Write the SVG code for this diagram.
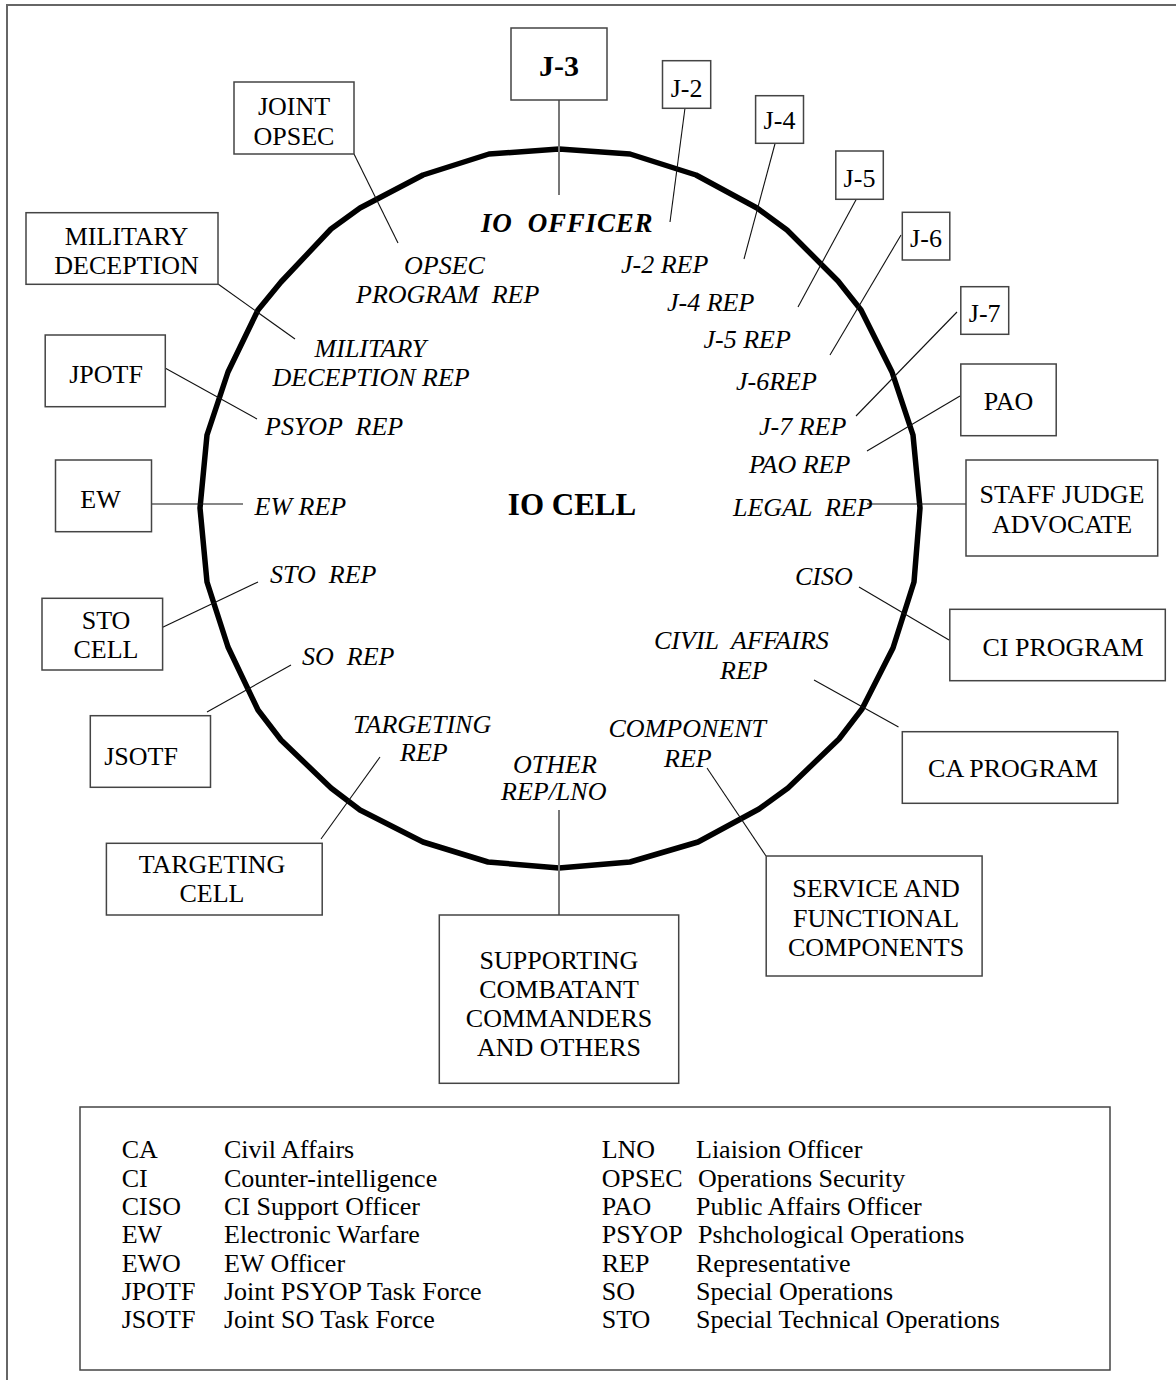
<svg xmlns="http://www.w3.org/2000/svg" width="1176" height="1389" viewBox="0 0 1176 1389">
  <style>
    .box { fill: #fff; stroke: #444; stroke-width: 1.5; }
    .lbl { font-family: "Liberation Serif", "Times New Roman", serif; font-size: 26px; fill: #000; text-anchor: middle; }
    .rep { font-family: "Liberation Serif", "Times New Roman", serif; font-size: 26px; font-style: italic; fill: #000; white-space: pre; }
    .leg { font-family: "Liberation Serif", "Times New Roman", serif; font-size: 26px; fill: #000; }
    .con { stroke: #111; stroke-width: 1.1; fill: none; }
    .stem { stroke: #777; stroke-width: 2; fill: none; }
  </style>

  <rect width="1176" height="1389" fill="#fff"/>

  <!-- page frame -->
  <path d="M7,1380 V5 H1176" fill="none" stroke="#666" stroke-width="2"/>

  <!-- the IO cell ring -->
  <polygon id="io-cell-ring" fill="none" stroke="#000" stroke-width="5.5" stroke-linejoin="round"
    points="559,149 630,154 696,175 757,208 787,230 838,281 861,310 892,372 913,435 920,508 914,582 893,648 862,709 839,739 788,788 759,809 698,842 630,862 559,868 488,862 423,842 360,810 331,788 281,740 258,710 228,647 207,582 200,508 207,435 228,372 258,310 281,282 331,229 360,208 423,175 489,154"/>

  <!-- connectors -->
  <g id="connectors">
    <line class="stem" x1="559" y1="100" x2="559" y2="195"/>
    <line class="con" x1="685" y1="108" x2="670" y2="222"/>
    <line class="con" x1="776" y1="140" x2="744" y2="259"/>
    <line class="con" x1="858.6" y1="195" x2="798" y2="307"/>
    <line class="con" x1="901" y1="235" x2="830" y2="355"/>
    <line class="con" x1="957" y1="312" x2="856" y2="416"/>
    <line class="con" x1="960" y1="396" x2="867" y2="451"/>
    <line class="con" x1="867" y1="504" x2="966" y2="504"/>
    <line class="con" x1="859" y1="587" x2="949" y2="640"/>
    <line class="con" x1="814" y1="680" x2="898.5" y2="727"/>
    <line class="con" x1="707" y1="768" x2="766" y2="856"/>
    <line class="stem" x1="559" y1="810" x2="559" y2="915"/>
    <line class="con" x1="380" y1="757" x2="321" y2="839"/>
    <line class="con" x1="291" y1="665" x2="207" y2="712"/>
    <line class="con" x1="258" y1="582" x2="159" y2="629"/>
    <line class="con" x1="151.5" y1="504" x2="243" y2="504"/>
    <line class="con" x1="165" y1="368" x2="257" y2="419"/>
    <line class="con" x1="218" y1="284" x2="295" y2="339"/>
    <line class="con" x1="354" y1="154" x2="398" y2="243"/>
  </g>

  <!-- cell centre and members -->
  <g id="io-cell-members">
    <text x="572" y="515" class="lbl" style="font-weight:bold;font-size:31px">IO CELL</text>
    <text x="481" y="232" class="rep" style="font-weight:bold;font-size:27px;letter-spacing:0.8px">IO  OFFICER</text>
    <text x="621" y="273" class="rep">J-2 REP</text>
    <text x="667" y="311" class="rep">J-4 REP</text>
    <text x="703.5" y="348" class="rep">J-5 REP</text>
    <text x="736" y="390" class="rep">J-6REP</text>
    <text x="759" y="435" class="rep">J-7 REP</text>
    <text x="749" y="473" class="rep">PAO REP</text>
    <text x="733" y="516" class="rep">LEGAL  REP</text>
    <text x="795" y="585" class="rep">CISO</text>
    <text x="654" y="649" class="rep">CIVIL  AFFAIRS</text>
    <text x="720" y="679" class="rep">REP</text>
    <text x="608.5" y="737" class="rep">COMPONENT</text>
    <text x="664" y="767" class="rep">REP</text>
    <text x="513" y="773" class="rep">OTHER</text>
    <text x="501" y="800" class="rep">REP/LNO</text>
    <text x="353" y="733" class="rep">TARGETING</text>
    <text x="400" y="761" class="rep">REP</text>
    <text x="302" y="665" class="rep">SO  REP</text>
    <text x="270" y="583" class="rep">STO  REP</text>
    <text x="254.5" y="515" class="rep">EW REP</text>
    <text x="265" y="435" class="rep">PSYOP  REP</text>
    <text x="314.6" y="357" class="rep">MILITARY</text>
    <text x="272.5" y="386" class="rep">DECEPTION REP</text>
    <text x="404" y="274" class="rep">OPSEC</text>
    <text x="356" y="303" class="rep">PROGRAM  REP</text>
  </g>

  <!-- outside organisations -->
  <g id="j3">
    <rect class="box" x="511" y="28" width="96" height="72"/>
    <text class="lbl" x="559" y="76" style="font-weight:bold;font-size:30px">J-3</text>
  </g>
  <g id="j2">
    <rect class="box" x="662.5" y="60.7" width="48.2" height="47.6"/>
    <text class="lbl" x="686.6" y="97">J-2</text>
  </g>
  <g id="j4">
    <rect class="box" x="755.6" y="95.7" width="47.9" height="47.6"/>
    <text class="lbl" x="779.5" y="129">J-4</text>
  </g>
  <g id="j5">
    <rect class="box" x="835.8" y="151" width="47.5" height="48.3"/>
    <text class="lbl" x="859.5" y="187">J-5</text>
  </g>
  <g id="j6">
    <rect class="box" x="902.3" y="212.3" width="47.5" height="47.7"/>
    <text class="lbl" x="926" y="246.5">J-6</text>
  </g>
  <g id="j7">
    <rect class="box" x="960.8" y="286.7" width="47.9" height="47.6"/>
    <text class="lbl" x="984.7" y="322">J-7</text>
  </g>
  <g id="pao">
    <rect class="box" x="960.8" y="364" width="95.4" height="71.7"/>
    <text class="lbl" x="1008.5" y="410">PAO</text>
  </g>
  <g id="staff-judge-advocate">
    <rect class="box" x="966" y="460" width="191.7" height="96"/>
    <text class="lbl" x="1062" y="503">STAFF JUDGE</text>
    <text class="lbl" x="1062" y="533">ADVOCATE</text>
  </g>
  <g id="ci-program">
    <rect class="box" x="949.8" y="609.3" width="215.5" height="71.4"/>
    <text class="lbl" x="1063" y="656">CI PROGRAM</text>
  </g>
  <g id="ca-program">
    <rect class="box" x="902.3" y="731.7" width="215.5" height="71.6"/>
    <text class="lbl" x="1013" y="777">CA PROGRAM</text>
  </g>
  <g id="service-components">
    <rect class="box" x="766.2" y="856" width="215.9" height="120"/>
    <text class="lbl" x="876" y="897">SERVICE AND</text>
    <text class="lbl" x="876" y="927">FUNCTIONAL</text>
    <text class="lbl" x="876" y="956">COMPONENTS</text>
  </g>
  <g id="supporting-commanders">
    <rect class="box" x="439.3" y="915" width="239.4" height="168.3"/>
    <text class="lbl" x="559" y="969">SUPPORTING</text>
    <text class="lbl" x="559" y="998">COMBATANT</text>
    <text class="lbl" x="559" y="1027">COMMANDERS</text>
    <text class="lbl" x="559" y="1056">AND OTHERS</text>
  </g>
  <g id="targeting-cell">
    <rect class="box" x="106.4" y="843.3" width="215.8" height="71.7"/>
    <text class="lbl" x="212" y="873">TARGETING</text>
    <text class="lbl" x="212" y="902">CELL</text>
  </g>
  <g id="jsotf">
    <rect class="box" x="90.3" y="715.7" width="120.2" height="71.6"/>
    <text class="lbl" x="141" y="765">JSOTF</text>
  </g>
  <g id="sto-cell">
    <rect class="box" x="42" y="598.3" width="120.6" height="71.7"/>
    <text class="lbl" x="106" y="629">STO</text>
    <text class="lbl" x="106" y="658">CELL</text>
  </g>
  <g id="ew">
    <rect class="box" x="55.5" y="460" width="96" height="71.7"/>
    <text class="lbl" x="100.5" y="508">EW</text>
  </g>
  <g id="jpotf">
    <rect class="box" x="45.2" y="335" width="120.1" height="71.7"/>
    <text class="lbl" x="106" y="383">JPOTF</text>
  </g>
  <g id="military-deception">
    <rect class="box" x="26" y="212.7" width="192" height="71.6"/>
    <text class="lbl" x="126.5" y="245">MILITARY</text>
    <text class="lbl" x="126.5" y="274">DECEPTION</text>
  </g>
  <g id="joint-opsec">
    <rect class="box" x="234" y="82" width="120" height="72"/>
    <text class="lbl" x="294" y="115">JOINT</text>
    <text class="lbl" x="294" y="145">OPSEC</text>
  </g>

  <!-- abbreviations -->
  <g id="legend">
    <rect class="box" x="80" y="1107" width="1030" height="263"/>
    <g class="leg">
      <text x="121.7" y="1158.3">CA</text><text x="224" y="1158.3">Civil Affairs</text>
      <text x="121.7" y="1186.7">CI</text><text x="224" y="1186.7">Counter-intelligence</text>
      <text x="121.7" y="1215">CISO</text><text x="224" y="1215">CI Support Officer</text>
      <text x="121.7" y="1243.3">EW</text><text x="224" y="1243.3">Electronic Warfare</text>
      <text x="121.7" y="1271.7">EWO</text><text x="224" y="1271.7">EW Officer</text>
      <text x="121.7" y="1300">JPOTF</text><text x="224" y="1300">Joint PSYOP Task Force</text>
      <text x="121.7" y="1328.3">JSOTF</text><text x="224" y="1328.3">Joint SO Task Force</text>
      <text x="601.7" y="1158.3">LNO</text><text x="696" y="1158.3">Liaision Officer</text>
      <text x="601.7" y="1186.7">OPSEC</text><text x="698" y="1186.7">Operations Security</text>
      <text x="601.7" y="1215">PAO</text><text x="696" y="1215">Public Affairs Officer</text>
      <text x="601.7" y="1243.3">PSYOP</text><text x="698" y="1243.3">Pshchological Operations</text>
      <text x="601.7" y="1271.7">REP</text><text x="696" y="1271.7">Representative</text>
      <text x="601.7" y="1300">SO</text><text x="696" y="1300">Special Operations</text>
      <text x="601.7" y="1328.3">STO</text><text x="696" y="1328.3">Special Technical Operations</text>
    </g>
  </g>
</svg>
